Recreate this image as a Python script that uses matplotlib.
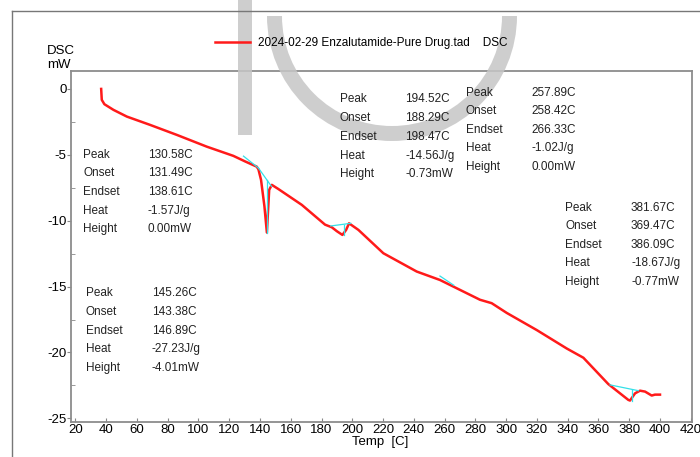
import numpy as np
import matplotlib.pyplot as plt
from matplotlib.patches import Rectangle, Wedge
from matplotlib.lines import Line2D

plt.rcParams['font.family'] = ['Liberation Sans', 'DejaVu Sans']
plt.rcParams['axes.unicode_minus'] = False

# DSC trace
temp = [36.8, 37.2, 38.9, 44.8, 53.5, 68.6, 86.0, 105.4, 122.7, 130.3, 137.9,
        139.0, 140.7, 142.9, 144.5, 146.0, 147.7, 152.0, 167.2, 182.3, 186.7,
        190.0, 193.6, 196.0, 197.9, 204.0, 220.2, 241.9, 257.0, 270.0, 283.0,
        290.6, 300.4, 319.9, 339.4, 350.2, 366.4, 379.4, 380.5, 383.8, 387.0,
        390.3, 394.6, 396.7, 400.0]
dsc = [0.0, -0.83, -1.16, -1.59, -2.1, -2.73, -3.49, -4.38, -5.08, -5.5, -5.9,
       -6.1, -6.9, -8.9, -10.9, -7.66, -7.28, -7.6, -8.8, -10.3, -10.5,
       -10.8, -11.08, -10.7, -10.2, -10.7, -12.47, -13.86, -14.5, -15.25, -16.0,
       -16.26, -17.0, -18.3, -19.7, -20.4, -22.4, -23.6, -23.65, -23.1, -22.9,
       -22.97, -23.27, -23.2, -23.2]

# analysis baselines (cyan)
base_x = [[129.3, 139.0], [139.0, 147.5], [144.5, 144.5], [186.0, 199.0],
          [194.5, 194.5], [257.0, 266.0], [367.5, 385.9], [381.7, 381.7]]
base_y = [[-5.1, -6.0], [-6.0, -7.4], [-10.9, -6.9], [-10.4, -10.2],
          [-11.05, -10.3], [-14.2, -14.9], [-22.46, -22.9], [-22.84, -23.7]]

row_names = ['Peak', 'Onset', 'Endset', 'Heat', 'Height']
res_1 = ['130.58C', '131.49C', '138.61C', '-1.57J/g', '0.00mW']
res_2 = ['194.52C', '188.29C', '198.47C', '-14.56J/g', '-0.73mW']
res_3 = ['257.89C', '258.42C', '266.33C', '-1.02J/g', '0.00mW']
res_4 = ['381.67C', '369.47C', '386.09C', '-18.67J/g', '-0.77mW']
res_5 = ['145.26C', '143.38C', '146.89C', '-27.23J/g', '-4.01mW']

W, H = 700, 457
fig = plt.figure(figsize=(7, 4.57), dpi=100)
ax = fig.add_axes([70.7 / W, 1 - 422.3 / H, 621 / W, 351.3 / H])

ax.plot(temp, dsc, color='#ff1a1a', lw=1.8, zorder=3)
for bx, by in zip(base_x, base_y):
    ax.plot(bx, by, color='#33e0e8', lw=0.9, zorder=4)

ax.set_xlim(17, 420.6)
ax.set_ylim(-25.3, 1.36)
ax.set_xticks(np.arange(20, 421, 20))
ax.set_yticks([0, -5, -10, -15, -20, -25])
ax.set_yticks(np.arange(-22.5, 0, 5), minor=True)
ax.tick_params(axis='x', direction='in', length=3, pad=1.5, labelsize=9.5,
               color='#888888')
ax.tick_params(axis='y', which='major', direction='out', length=3, pad=0,
               labelsize=9.5, color='#888888')
ax.tick_params(axis='y', which='minor', direction='in', length=3,
               color='#888888')
for s in ax.spines.values():
    s.set_color('#8c8c8c')
    s.set_linewidth(1.3)

fig.text(380 / W, 1 - 442 / H, 'Temp  [C]', ha='center', va='center',
         fontsize=9.5)
fig.text(47 / W, 1 - 51.5 / H, 'DSC', ha='left', va='center', fontsize=9.5)
fig.text(47 / W, 1 - 64.5 / H, 'mW', ha='left', va='center', fontsize=9.5)

# legend
fig.add_artist(Line2D([215 / W, 250 / W], [1 - 42 / H, 1 - 42 / H],
                      color='#ff1a1a', lw=1.8))
fig.text(258 / W, 1 - 43 / H,
         '2024-02-29 Enzalutamide-Pure Drug.tad    DSC',
         ha='left', va='center', fontsize=8.5)

# result blocks: (label x, value x, first row y, row step) in pixels
blocks = [(83, 148, 154.5, 18.7, res_1), (340, 405, 99.5, 18.7, res_2),
          (466, 531, 92.7, 18.5, res_3), (565, 631, 207.7, 18.5, res_4),
          (86, 152, 293.3, 18.6, res_5)]
for lx, vx, y0, dy, vals in blocks:
    for i, (nm, v) in enumerate(zip(row_names, vals)):
        yy = 1 - (y0 + i * dy) / H
        fig.text(lx / W, yy, nm, ha='left', va='center', fontsize=8.5,
                 color='#222222')
        fig.text(vx / W, yy, v, ha='left', va='center', fontsize=8.5,
                 color='#222222')

# outer frame
fig.add_artist(Line2D([12 / W, 1.0], [1 - 11 / H, 1 - 11 / H],
                      color='#777777', lw=1.0))
fig.add_artist(Line2D([12 / W, 12 / W], [0, 1 - 11 / H],
                      color='#777777', lw=1.0))

# faint watermark, under the texts
wm = dict(transform=None, facecolor='#c6c6c6', edgecolor='none', alpha=0.85,
          zorder=1)
fig.add_artist(Rectangle((238, H - 135), 14, 135, **wm))
fig.add_artist(Wedge((392, H - 16), 125, 180, 360, width=15, **wm))

fig.savefig('out.png', dpi=100)
